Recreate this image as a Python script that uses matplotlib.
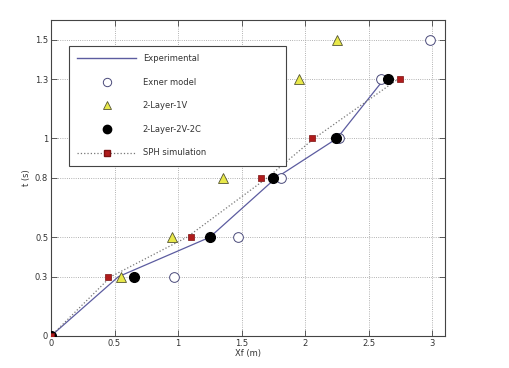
import matplotlib
matplotlib.use("Agg")
import matplotlib.pyplot as plt
from matplotlib.lines import Line2D

# Data
exp_x = [0, 0.53, 1.25, 1.77, 2.25, 2.62]
exp_t = [0, 0.3, 0.5, 0.8, 1.0, 1.3]

exner_x = [0, 0.97, 1.47, 1.81, 2.27, 2.60, 2.98]
exner_t = [0, 0.3, 0.5, 0.8, 1.0, 1.3, 1.5]

l1v_x = [0, 0.55, 0.95, 1.35, 1.65, 1.95, 2.25]
l1v_t = [0, 0.3, 0.5, 0.8, 1.0, 1.3, 1.5]

l2v_x = [0, 0.65, 1.25, 1.75, 2.24, 2.65]
l2v_t = [0, 0.3, 0.5, 0.8, 1.0, 1.3]

sph_x = [0, 0.45, 1.10, 1.65, 2.05, 2.75]
sph_t = [0, 0.3, 0.5, 0.8, 1.0, 1.3]
sph_curve_x = [0, 0.47, 1.07, 1.70, 2.07, 2.73]
sph_curve_t = [0, 0.3, 0.5, 0.8, 1.0, 1.3]

xticks = [0, 0.5, 1, 1.5, 2, 2.5, 3]
xticklabels = ["0", "0.5", "1", "1.5", "2", "2.5", "3"]
yticks = [0, 0.3, 0.5, 0.8, 1, 1.3, 1.5]
yticklabels = ["0", "0.3", "0.5", "0.8", "1", "1.3", "1.5"]

fig = plt.figure(figsize=(5.1, 3.68), dpi=100)
ax = fig.add_axes([0.1, 0.087, 0.7725, 0.859])

tc = "#333333"
ax.plot(exp_x, exp_t, '-', color="#5c5ca0", lw=0.9, zorder=3)
ax.plot(sph_curve_x, sph_curve_t, ':', color="#777777", lw=0.9, zorder=3)
ax.plot(exner_x, exner_t, 'o', mfc='white', mec="#4a4a7a", mew=0.7, ms=7, ls='none', zorder=4)
ax.plot(l1v_x, l1v_t, '^', mfc="#e8e84a", mec="#555533", mew=0.6, ms=7, ls='none', zorder=4)
ax.plot(l2v_x, l2v_t, 'o', mfc='black', mec='black', ms=7, ls='none', zorder=5)
ax.plot(sph_x, sph_t, 's', mfc="#b01c1c", mec="#7a1010", mew=0.5, ms=4.5, ls='none', zorder=6)

handles = [
    Line2D([], [], color="#5c5ca0", lw=1.0),
    Line2D([], [], marker='o', mfc='white', mec="#4a4a7a", mew=0.7, ms=6, ls='none'),
    Line2D([], [], marker='^', mfc="#e8e84a", mec="#555533", mew=0.6, ms=6, ls='none'),
    Line2D([], [], marker='o', mfc='black', mec='black', ms=6, ls='none'),
    Line2D([], [], marker='s', mfc="#b01c1c", mec="#7a1010", ms=4.5, ls=':', color="#777777", lw=0.9),
]
labels = ["Experimental", "Exner model", "2-Layer-1V", "2-Layer-2V-2C", "SPH simulation"]
leg = ax.legend(handles, labels, loc='upper left',
                bbox_to_anchor=(0.046, 0.557, 0.55, 0.361), mode='expand',
                fontsize=6, frameon=True, fancybox=False, edgecolor="#444444",
                handlelength=7, handletextpad=0.85, labelspacing=1.75,
                borderpad=1.0, borderaxespad=0, framealpha=1)
leg.get_frame().set_linewidth(0.8)
for txt in leg.get_texts():
    txt.set_color(tc)
leg.set_zorder(10)

ax.set_xlim(0, 3.1)
ax.set_ylim(0, 1.6)
ax.set_xticks(xticks)
ax.set_xticklabels(xticklabels)
ax.set_yticks(yticks)
ax.set_yticklabels(yticklabels)
ax.grid(True, ls=':', color="#999999", lw=0.6)
ax.tick_params(direction='in', top=True, right=True, labelsize=6, colors="#444444",
               labelcolor=tc, length=4, width=0.6, pad=2)
for s in ax.spines.values():
    s.set_color("#444444")
    s.set_linewidth(0.8)
ax.set_xlabel("Xf (m)", fontsize=6, color=tc, labelpad=1)
ax.set_ylabel("t (s)", fontsize=6, color=tc, labelpad=3)

fig.savefig("out.png", dpi=100)
